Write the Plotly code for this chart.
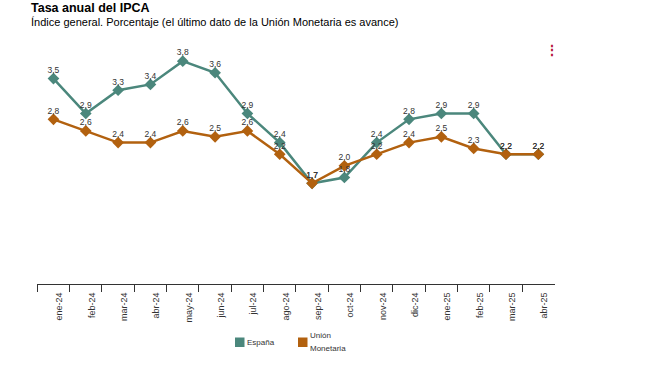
import plotly.graph_objects as go

# ---- data ----
meses = ["ene-24", "feb-24", "mar-24", "abr-24", "may-24", "jun-24", "jul-24", "ago-24",
         "sep-24", "oct-24", "nov-24", "dic-24", "ene-25", "feb-25", "mar-25", "abr-25"]
espana = [3.5, 2.9, 3.3, 3.4, 3.8, 3.6, 2.9, 2.4, 1.7, 1.8, 2.4, 2.8, 2.9, 2.9, 2.2, 2.2]
union_monetaria = [2.8, 2.6, 2.4, 2.4, 2.6, 2.5, 2.6, 2.2, 1.7, 2.0, 2.2, 2.4, 2.5, 2.3, 2.2, 2.2]

titulo = "Tasa anual del IPCA"
subtitulo = "Índice general. Porcentaje (el último dato de la Unión Monetaria es avance)"
leyenda = ["España", "Unión", "Monetaria"]

TEAL = "#4B877C"
ORANGE = "#B2610F"
TXT = "#333333"
FONT = "Liberation Sans, Arial, sans-serif"

W, H = 659, 371


def px_x(p):
    return p / W


def px_y(p):
    return 1 - p / H


fig = go.Figure()

for name, vals, color in [("España", espana, TEAL), ("Unión Monetaria", union_monetaria, ORANGE)]:
    fig.add_trace(go.Scatter(
        x=meses, y=vals, mode="lines+markers", name=name,
        line=dict(color=color, width=2.5),
        marker=dict(symbol="diamond", size=9, color=color),
        showlegend=False))

for vals in [espana, union_monetaria]:
    fig.add_trace(go.Scatter(
        x=meses, y=vals, mode="markers+text",
        marker=dict(size=4, opacity=0),
        texttemplate="%{y:.1f}", textposition="top center",
        textfont=dict(size=8.5, color=TXT, family=FONT),
        cliponaxis=False, showlegend=False, hoverinfo="skip"))

shapes = []
for x0, color in [(235, TEAL), (298, ORANGE)]:
    shapes.append(dict(type="rect", xref="paper", yref="paper",
                       x0=px_x(x0), x1=px_x(x0 + 9.5), y0=px_y(337.5), y1=px_y(347),
                       fillcolor=color, line=dict(width=0)))

annotations = [
    dict(text="<b>" + titulo + "</b>", x=px_x(29), y=px_y(8), xref="paper", yref="paper",
         xanchor="left", yanchor="middle", showarrow=False,
         font=dict(size=12.5, color="#000000")),
    dict(text=subtitulo, x=px_x(29), y=px_y(22), xref="paper", yref="paper",
         xanchor="left", yanchor="middle", showarrow=False,
         font=dict(size=11, color="#000000")),
    dict(text="<b>⋮</b>", x=px_x(552), y=px_y(50), xref="paper", yref="paper",
         xanchor="center", yanchor="middle", showarrow=False,
         font=dict(size=14, color="#B5173E")),
]
for txt, x, y in [(leyenda[0], 245, 342), (leyenda[1], 308, 335.5), (leyenda[2], 308, 348)]:
    annotations.append(dict(text=txt, x=px_x(x), y=px_y(y), xref="paper", yref="paper",
                            xanchor="left", yanchor="middle", showarrow=False,
                            font=dict(size=8, color=TXT)))

fig.update_layout(
    width=W, height=H,
    margin=dict(l=0, r=0, t=0, b=0),
    paper_bgcolor="white", plot_bgcolor="white",
    separators=",.",
    font=dict(family=FONT, color=TXT),
    showlegend=False,
    xaxis=dict(type="category", categoryorder="array", categoryarray=meses,
               domain=[px_x(37.3), px_x(554.5)], range=[-0.5, 15.5],
               tickson="boundaries", ticks="outside", ticklen=7,
               tickcolor=TXT, showline=True, linecolor=TXT, linewidth=1,
               showgrid=False, zeroline=False, tickangle=-90,
               tickfont=dict(size=9, color=TXT), ticklabelshift=6, ticklabelstandoff=4),
    yaxis=dict(domain=[px_y(284), px_y(20.4)], range=[-0.03, 4.5], visible=False,
               showgrid=False, zeroline=False),
    shapes=shapes,
    annotations=annotations,
)

fig.write_html("out.html",
               config={"displayModeBar": False},
               post_script="document.body.style.margin='0px';document.body.style.overflow='hidden';")
